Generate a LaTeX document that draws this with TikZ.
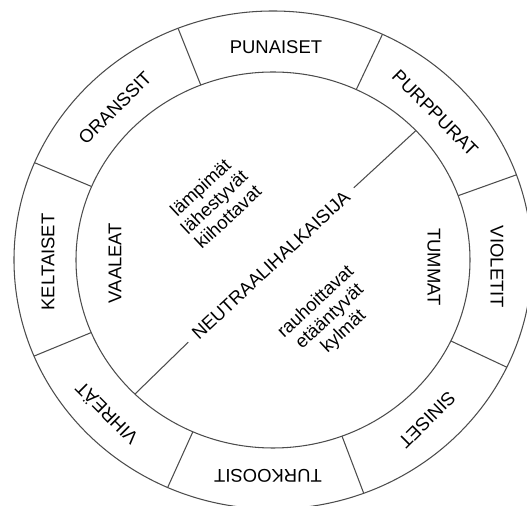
\documentclass[tikz,border=0pt]{standalone}
\usepackage{fontspec}
\setmainfont{Liberation Sans}
\tikzset{
  ring/.style={color=black!70, line width=0.6pt},
  ringlabel/.style={font=\fontsize{10.5}{12}\selectfont},
  zonelabel/.style={font=\fontsize{10.5}{11.5}\selectfont, align=center},
}
\begin{document}
\begin{tikzpicture}[x=0.02cm,y=0.02cm]
        \useasboundingbox (-273,-246) rectangle (254,260);
        \clip (-273,-246) rectangle (254,260);
        \coordinate (c) at (0,0);
        \draw [ring] (c) ellipse [x radius=259, y radius=249];
        \draw [ring] (c) ellipse [x radius=197, y radius=188];
        \foreach \a in {111.5,65,20,-25.5,-69.5,-114,-157.3,157}
            \draw [ring] (\a:197 and 188) -- (\a:259 and 249);
        \node [ringlabel] (punaiset) at (3,213) {PUNAISET};
        \node [ringlabel, rotate=-45] (purppurat) at (162,147) {PURPPURAT};
        \node [ringlabel, rotate=-90] (violetit) at (224,-7) {VIOLETIT};
        \node [ringlabel, rotate=-135] (siniset) at (154,-160) {SINISET};
        \node [ringlabel, rotate=180] (turkoosit) at (-5,-216) {TURKOOSIT};
        \node [ringlabel, rotate=135] (vihreat) at (-167,-154) {VIHREÄT};
        \node [ringlabel, rotate=90] (keltaiset) at (-225,-2) {KELTAISET};
        \node [ringlabel, rotate=45] (oranssit) at (-158,152) {ORANSSIT};
        \node [zonelabel, rotate=90] (vaaleat) at (-158,-3) {VAALEAT};
        \node [zonelabel, rotate=-90] (tummat) at (161,-7) {TUMMAT};
        \node [zonelabel, rotate=43] (lammin) at (-59,58) {lämpimät\\lähestyvät\\kiihottavat};
        \node [zonelabel, rotate=43] (kylma) at (57,-57) {rauhoittavat\\etääntyvät\\kylmät};
        \node [zonelabel, rotate=43, inner sep=5pt] (neutraali) at (-2,-5) {NEUTRAALIHALKAISIJA};
        \coordinate (diamA) at (43.5:197 and 188);
        \coordinate (diamB) at (225.5:197 and 188);
        \draw [ring] (diamB) -- (neutraali.west);
        \draw [ring] (neutraali.east) -- (diamA);
\end{tikzpicture}
\end{document}
